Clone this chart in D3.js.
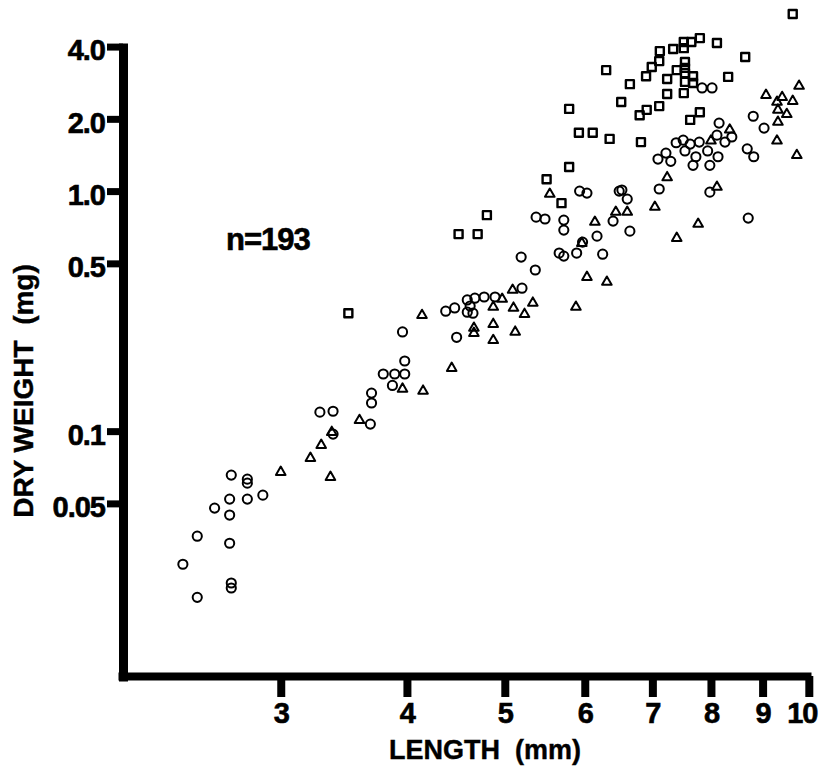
<!DOCTYPE html>
<html>
<head>
<meta charset="utf-8">
<script src="https://cdn.jsdelivr.net/npm/d3@7"></script>
<style>
    body { margin: 0; background: #fff; }
    svg { display: block; }
    text { font-family: "Liberation Sans", Arial, sans-serif; font-weight: bold; fill: #000; }
</style>
</head>
<body>
<div id="chart"></div>
<script>
'use strict';

// body length (mm) / dry weight (mg)
var squareLength = [9.64, 7.80, 8.11, 7.65, 7.52, 7.52, 7.34, 7.12, 7.11, 6.99, 6.90, 7.24, 7.40, 7.54, 7.54, 7.54, 7.68, 7.54, 7.68, 7.52, 7.24, 7.11, 6.91, 6.80, 6.52, 6.65, 6.30, 8.65, 8.32, 5.79, 7.80, 7.63, 5.92, 6.11, 6.35, 6.82, 5.79, 5.50, 5.69, 4.80, 4.50, 4.70, 3.50];
var squareWeight = [5.47, 4.34, 4.14, 4.18, 4.18, 3.94, 3.91, 3.83, 3.48, 3.29, 3.01, 2.93, 3.19, 3.45, 3.26, 3.10, 3.01, 2.85, 2.82, 2.56, 2.54, 2.26, 2.18, 2.07, 2.35, 2.79, 3.19, 3.62, 2.99, 2.20, 2.13, 1.98, 1.75, 1.75, 1.65, 1.60, 1.26, 1.12, 0.891, 0.794, 0.662, 0.662, 0.310];

var triLength = [9.78, 9.07, 9.41, 9.30, 9.64, 9.32, 9.51, 9.32, 9.30, 9.73, 8.35, 8.11, 7.24, 7.04, 7.77, 7.40, 6.44, 6.61, 6.14, 5.54, 5.96, 6.03, 6.31, 5.88, 5.09, 4.97, 4.87, 5.10, 5.33, 5.23, 4.87, 4.66, 4.66, 5.12, 4.87, 4.14, 4.43, 3.96, 4.15, 3.59, 3.37, 3.29, 3.21, 3.00, 3.36, 8.00];
var triWeight = [2.74, 2.51, 2.46, 2.35, 2.37, 2.18, 2.09, 1.94, 1.62, 1.41, 1.80, 1.04, 1.14, 0.858, 0.729, 0.637, 0.818, 0.818, 0.743, 0.972, 0.607, 0.438, 0.418, 0.329, 0.387, 0.355, 0.329, 0.326, 0.342, 0.307, 0.279, 0.269, 0.256, 0.259, 0.239, 0.304, 0.183, 0.150, 0.147, 0.111, 0.0990, 0.0874, 0.0772, 0.0675, 0.0643, 1.62];

var circLength = [2.68, 2.78, 2.78, 2.67, 2.78, 2.88, 2.58, 2.67, 2.48, 2.67, 2.40, 2.68, 2.68, 2.48, 3.28, 3.38, 3.38, 3.69, 3.69, 3.68, 3.79, 3.89, 3.98, 3.98, 3.87, 3.96, 4.37, 4.46, 4.59, 4.67, 4.77, 4.89, 4.59, 4.65, 4.62, 4.48, 5.19, 5.36, 5.20, 5.37, 5.48, 5.72, 5.72, 5.93, 6.03, 6.49, 6.61, 6.40, 6.65, 6.17, 5.97, 5.66, 5.72, 5.89, 6.25, 7.84, 8.02, 8.15, 8.81, 9.03, 8.11, 8.26, 8.39, 8.69, 8.82, 7.79, 7.63, 7.51, 7.39, 7.22, 7.09, 7.30, 7.54, 7.73, 7.68, 7.94, 8.13, 7.98, 7.11, 7.98, 6.53, 8.71];
var circWeight = [0.0656, 0.0631, 0.0607, 0.0521, 0.0521, 0.0541, 0.0478, 0.0447, 0.0365, 0.0341, 0.0279, 0.0233, 0.0222, 0.0203, 0.120, 0.121, 0.0972, 0.144, 0.131, 0.107, 0.173, 0.173, 0.173, 0.196, 0.155, 0.259, 0.316, 0.326, 0.352, 0.358, 0.362, 0.362, 0.313, 0.310, 0.332, 0.246, 0.531, 0.469, 0.394, 0.779, 0.765, 0.757, 0.688, 1.00, 0.981, 1.00, 0.926, 0.750, 0.681, 0.649, 0.613, 0.552, 0.536, 0.552, 0.546, 2.69, 2.69, 1.92, 2.05, 1.83, 1.71, 1.60, 1.68, 1.50, 1.39, 1.60, 1.57, 1.63, 1.59, 1.44, 1.36, 1.33, 1.47, 1.39, 1.28, 1.47, 1.39, 1.28, 1.02, 0.990, 1.01, 0.772];

var xTickValues = [3, 4, 5, 6, 7, 8, 9, 10];
var yTickValues = [4, 2, 1, 0.5, 0.1, 0.05];
var yTickLabels = ["4.0", "2.0", "1.0", "0.5", "0.1", "0.05"];
var sampleLabel = "n=193";

var width = 819, height = 766;
var axisX = 123, axisY = 676;

var x = d3.scaleLog().domain([2.07, 10.05]).range([118, 811]);
var y = d3.scaleLog().domain([0.0091, 4.14]).range([681, 43]);

var svg = d3.select("#chart").append("svg")
    .attr("width", width)
    .attr("height", height)
    .style("background", "#fff");

// y axis
var yAxis = svg.append("g")
    .attr("transform", "translate(" + axisX + ",0)")
    .call(d3.axisLeft(y)
        .tickValues(yTickValues)
        .tickSize(16)
        .tickSizeOuter(0)
        .tickPadding(2)
        .tickFormat(function(d, i) { return yTickLabels[i]; }));
yAxis.select(".domain").attr("stroke", "#000").attr("stroke-width", 9);
yAxis.selectAll(".tick line").attr("stroke", "#000").attr("stroke-width", 7);
yAxis.selectAll(".tick text")
    .attr("dy", "0.46em")
    .style("font-size", "29px")
    .style("letter-spacing", "-1px")
    .attr("stroke", "#000")
    .attr("stroke-width", 0.6);

// x axis
var xAxis = svg.append("g")
    .attr("transform", "translate(0," + axisY + ")")
    .call(d3.axisBottom(x)
        .tickValues(xTickValues)
        .tickSize(21)
        .tickSizeOuter(0)
        .tickPadding(5)
        .tickFormat(d3.format("d")));
xAxis.select(".domain").attr("stroke", "#000").attr("stroke-width", 8);
xAxis.selectAll(".tick line").attr("stroke", "#000").attr("stroke-width", 8);
xAxis.selectAll(".tick text")
    .style("font-size", "29px")
    .style("letter-spacing", "-1px")
    .attr("stroke", "#000")
    .attr("stroke-width", 0.6)
    .attr("dx", function(d) { return d === 10 ? -7 : 0; });

// axis titles
svg.append("text")
    .attr("x", 485)
    .attr("y", 759)
    .attr("text-anchor", "middle")
    .style("font-size", "27px")
    .style("white-space", "pre")
    .attr("stroke", "#000")
    .attr("stroke-width", 0.4)
    .text("LENGTH  (mm)");

svg.append("text")
    .attr("transform", "translate(33,391) rotate(-90)")
    .attr("text-anchor", "middle")
    .style("font-size", "28px")
    .style("white-space", "pre")
    .attr("stroke", "#000")
    .attr("stroke-width", 0.4)
    .text("DRY WEIGHT  (mg)");

svg.append("text")
    .attr("x", 226)
    .attr("y", 250)
    .style("font-size", "31px")
    .style("letter-spacing", "-1px")
    .attr("stroke", "#000")
    .attr("stroke-width", 0.6)
    .text(sampleLabel);

// points
function pairs(xs, ys) {
    return xs.map(function(v, i) { return {len: v, wt: ys[i]}; });
}

function drawGroup(data, symbolType, size, strokeWidth) {
    svg.append("g").selectAll("path")
        .data(data)
        .enter().append("path")
        .attr("d", d3.symbol().type(symbolType).size(size))
        .attr("transform", function(d) { return "translate(" + x(d.len) + "," + y(d.wt) + ")"; })
        .attr("fill", "none")
        .attr("stroke", "#000")
        .attr("stroke-width", strokeWidth)
        .attr("stroke-linejoin", "round");
}

drawGroup(pairs(squareLength, squareWeight), d3.symbolSquare, 64, 2.4);
drawGroup(pairs(circLength, circWeight), d3.symbolCircle, 66, 2);
drawGroup(pairs(triLength, triWeight), d3.symbolTriangle, 40, 2);
</script>
</body>
</html>
